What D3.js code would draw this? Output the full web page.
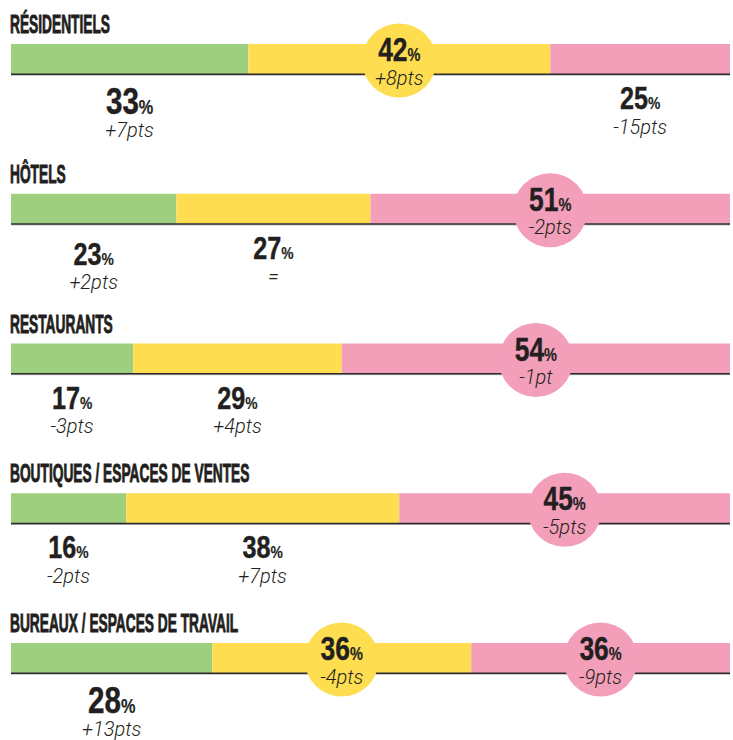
<!DOCTYPE html>
<html>
<head>
<meta charset="utf-8">
<script src="https://cdn.jsdelivr.net/npm/d3@7"></script>
<style>
  html, body { margin: 0; padding: 0; background: #fff; }
  svg { display: block; }
</style>
</head>
<body>
<div id="chart"></div>
<script>
// ---- DATA ----
const categories = ["RÉSIDENTIELS", "HÔTELS", "RESTAURANTS", "BOUTIQUES / ESPACES DE VENTES", "BUREAUX / ESPACES DE TRAVAIL"];
const seriesNames = ["vert", "jaune", "rose"];
const greenValues  = [33, 23, 17, 16, 28];
const yellowValues = [42, 27, 29, 38, 36];
const pinkValues   = [25, 51, 54, 45, 36];
const greenDeltas  = ["+7pts", "+2pts", "-3pts", "-2pts", "+13pts"];
const yellowDeltas = ["+8pts", "=", "+4pts", "+7pts", "-4pts"];
const pinkDeltas   = ["-15pts", "-2pts", "-1pt", "-5pts", "-9pts"];

// ---- STYLE ----
const W = 733, H = 740;
const colors = { vert: "#9dcf7f", jaune: "#fedd50", rose: "#f39fba" };
const ink = "#231f20";
const barH = 30;
const circleR = 37;
// label emphasis (row-segment)
const bigLabels = new Set(["0-0", "4-0"]);
const labelShift = { "1-0": 6 };

const valuesBySeries = [greenValues, yellowValues, pinkValues];
const deltasBySeries = [greenDeltas, yellowDeltas, pinkDeltas];

const rows = categories.map((cat, i) => {
  let acc = 0;
  const vals = valuesBySeries.map(v => v[i]);
  const maxV = d3.max(vals);
  const segs = vals.map((v, j) => {
    const s = { row: i, idx: j, key: seriesNames[j], value: v, delta: deltasBySeries[j][i], x0: acc, x1: acc + v, last: j === vals.length - 1, circled: v === maxV };
    acc += v;
    return s;
  });
  return { cat, i, segs };
});

const x = d3.scaleLinear().domain([0, 100]).range([11, 730]);
const y = d3.scaleBand().domain(categories).range([44, 44 + 5 * 149.75]).paddingInner(0);

const svg = d3.select("#chart").append("svg").attr("width", W).attr("height", H);

const g = svg.selectAll("g.row").data(rows).join("g").attr("class", "row")
  .attr("transform", d => `translate(0,${y(d.cat)})`);

// Titles
g.append("text")
  .attr("transform", "translate(10,-11) scale(0.55,1)")
  .attr("font-family", "'Liberation Sans', Arial, sans-serif")
  .attr("font-weight", 700)
  .attr("font-size", 25)
  .attr("fill", ink)
  .attr("stroke", ink)
  .attr("stroke-width", 0.9)
  .text(d => d.cat);

// Bars
g.selectAll("rect.seg").data(d => d.segs).join("rect").attr("class", "seg")
  .attr("x", d => x(d.x0))
  .attr("width", d => (d.last ? x.range()[1] : x(Math.min(d.x1, 100))) - x(d.x0))
  .attr("y", 0)
  .attr("height", barH)
  .attr("fill", d => colors[d.key]);

// bottom rule
g.append("line").attr("x1", x(0)).attr("x2", x.range()[1]).attr("y1", barH + 1.2).attr("y2", barH + 1.2)
  .attr("stroke", "#b5b5b5").attr("stroke-width", 1);
g.append("line").attr("x1", x(0)).attr("x2", x.range()[1]).attr("y1", barH + 0.3).attr("y2", barH + 0.3)
  .attr("stroke", "#2e2b2c").attr("stroke-width", 1.4);

const cx = d => (x(d.x0) + (d.last ? x.range()[1] : x(Math.min(d.x1, 100)))) / 2;

// Labels
const lab = g.selectAll("g.lab").data(d => d.segs).join("g").attr("class", "lab")
  .attr("transform", d => {
    const k = d.row + "-" + d.idx;
    const ty = d.circled ? barH / 2 + 1.5 : barH + (labelShift[k] || 0);
    return `translate(${cx(d)},${ty})`;
  });

lab.filter(d => d.circled).append("circle")
  .attr("r", circleR)
  .attr("fill", d => colors[d.key]);

lab.append("text")
  .attr("transform", d => {
    const k = d.row + "-" + d.idx;
    const big = bigLabels.has(k);
    const by = d.circled ? 0.5 : (big ? 39.5 : 35);
    return `translate(0,${by}) scale(0.8,1)`;
  })
  .attr("text-anchor", "middle")
  .attr("font-family", "'Liberation Sans', Arial, sans-serif")
  .attr("font-weight", 700)
  .attr("fill", ink)
  .attr("stroke", ink)
  .attr("stroke-width", 0.4)
  .each(function(d) {
    const k = d.row + "-" + d.idx;
    const big = bigLabels.has(k);
    const t = d3.select(this);
    const fs = d.circled ? 33 : (big ? 37 : 31.5);
    t.append("tspan").attr("font-size", fs).text(d.value);
    t.append("tspan").attr("font-size", fs * 0.55).attr("stroke-width", 0.2).text("%");
  });

lab.append("text")
  .attr("text-anchor", "middle")
  .attr("y", d => {
    const k = d.row + "-" + d.idx;
    const big = bigLabels.has(k);
    return d.circled ? 24 : (big ? 63 : 59.5);
  })
  .attr("font-family", "Roboto, 'Liberation Sans', Arial, sans-serif")
  .attr("font-style", "italic")
  .attr("font-weight", 300)
  .attr("font-size", 20)
  .attr("fill", ink)
  .text(d => d.delta);
</script>
</body>
</html>
